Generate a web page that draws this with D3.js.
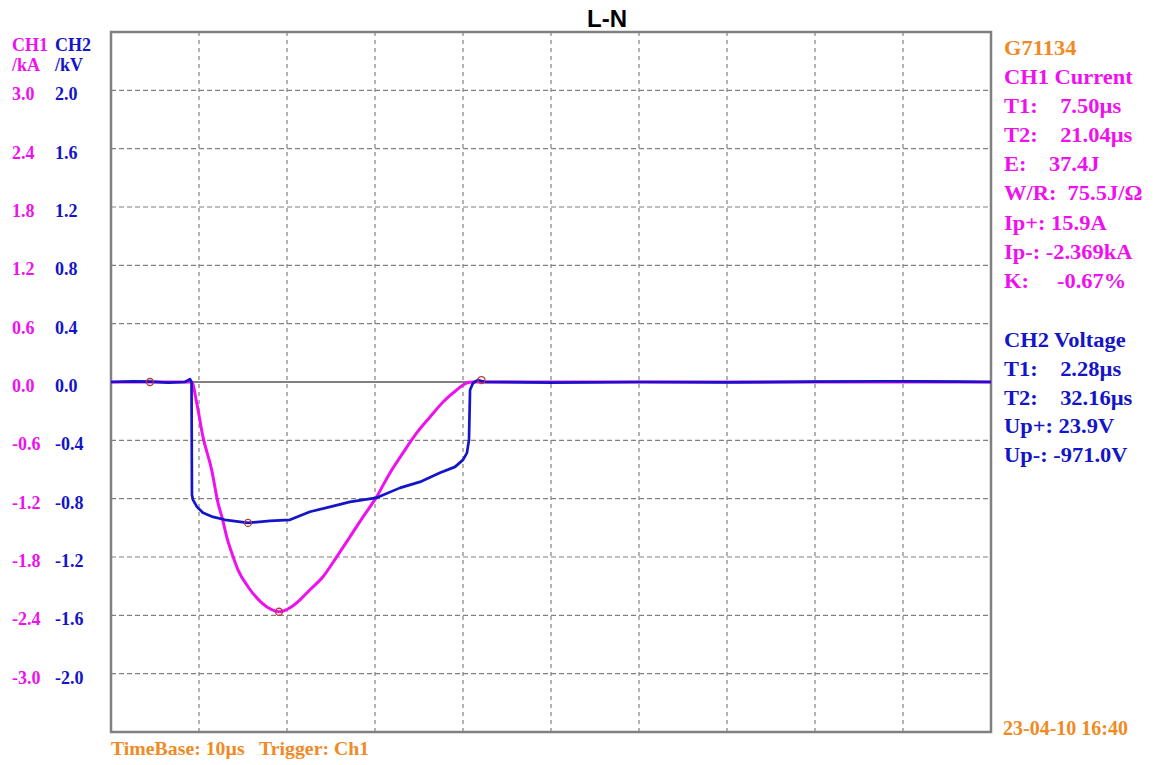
<!DOCTYPE html>
<html>
<head>
<meta charset="utf-8">
<script src="https://cdn.jsdelivr.net/npm/d3@7"></script>
<style>
  body { margin: 0; background: #fff; }
  text { font-family: "Liberation Serif", "Times New Roman", serif; font-weight: bold; white-space: pre; }
</style>
</head>
<body>
<div id="chart"></div>
<script>
// time in us, CH1 current in kA
const ch1Time = [0, 9.17, 9.74, 10.45, 11.44, 12.16, 12.69, 13.15, 13.72, 14.43, 15.57, 17.13, 18.26, 19.09,
    20.34, 21.48, 22.61, 24.09, 25.65, 27.16, 28.64, 30.11, 31.7, 33.18, 34.74, 36.25, 37.73, 39.28, 40.42, 41.14, 100];
const ch1Values = [0, 0, -0.216, -0.565, -0.904, -1.243, -1.418, -1.592, -1.757, -1.932, -2.106, -2.271, -2.342, -2.363,
    -2.322, -2.24, -2.137, -2.003, -1.798, -1.592, -1.387, -1.192, -0.935, -0.729, -0.524, -0.36, -0.205, -0.082, -0.01, 0, 0];

// time in us, CH2 voltage in kV
const ch2Time = [0, 2.5, 4.43, 6.5, 8.41, 8.98, 9.15, 9.2, 9.32, 9.77, 10.45, 11.59, 12.95, 15.57, 18.07, 20.34,
    22.61, 24.89, 27.16, 30.11, 32.84, 35.11, 37.39, 39.09, 40.0, 40.45, 40.68, 40.8, 41.14, 41.7, 42.5,
    50, 60, 70, 80, 88, 92, 96, 100];
const ch2Values = [0, 0.004, 0.002, -0.004, 0, 0.02, 0, -0.774, -0.808, -0.856, -0.897, -0.925, -0.945, -0.966, -0.952, -0.945,
    -0.89, -0.856, -0.822, -0.795, -0.726, -0.685, -0.623, -0.582, -0.534, -0.486, -0.397, -0.055, -0.007, 0.014, 0,
    -0.004, 0, -0.003, 0.002, 0.005, 0.004, 0.003, 0];

// cursor markers: [time, value, channel]
const markers = [[4.43, 0, 'ch2'], [15.57, -0.966, 'ch2'], [19.09, -2.363, 'ch1'], [42.1, 0.02, 'ch1']];

const ch1Ticks = ['3.0', '2.4', '1.8', '1.2', '0.6', '0.0', '-0.6', '-1.2', '-1.8', '-2.4', '-3.0'];
const ch2Ticks = ['2.0', '1.6', '1.2', '0.8', '0.4', '0.0', '-0.4', '-0.8', '-1.2', '-1.6', '-2.0'];
const xGrid = [10, 20, 30, 40, 50, 60, 70, 80, 90];
const yGrid = [2.0, 1.6, 1.2, 0.8, 0.4, -0.4, -0.8, -1.2, -1.6, -2.0];

const ch1Info = ['CH1 Current', 'T1:    7.50\u00b5s', 'T2:    21.04\u00b5s', 'E:    37.4J', 'W/R:  75.5J/\u03a9',
    'Ip+: 15.9A', 'Ip-: -2.369kA', 'K:     -0.67%'];
const ch2Info = ['CH2 Voltage', 'T1:    2.28\u00b5s', 'T2:    32.16\u00b5s', 'Up+: 23.9V', 'Up-: -971.0V'];

const W = 1164, H = 765;
const plotL = 111, plotR = 991, plotT = 32, plotB = 732;
const magenta = '#ee11ee', blue = '#1414c8', orange = '#f08a24', gray = '#808080';

const svg = d3.select('#chart').append('svg')
    .attr('width', W).attr('height', H);

const x = d3.scaleLinear().domain([0, 100]).range([plotL, plotR]);
const y2 = d3.scaleLinear().domain([-2.4, 2.4]).range([plotB, plotT]);
const y1 = d3.scaleLinear().domain([-3.6, 3.6]).range([plotB, plotT]);

// grid
svg.append('g').selectAll('line').data(xGrid).enter().append('line')
    .attr('x1', d => x(d)).attr('x2', d => x(d))
    .attr('y1', plotT).attr('y2', plotB)
    .attr('stroke', gray).attr('stroke-width', 1.2).attr('stroke-dasharray', '4,4');
svg.append('g').selectAll('line').data(yGrid).enter().append('line')
    .attr('x1', plotL).attr('x2', plotR)
    .attr('y1', d => y2(d)).attr('y2', d => y2(d))
    .attr('stroke', gray).attr('stroke-width', 1.2).attr('stroke-dasharray', '5,3');
// zero line
svg.append('line')
    .attr('x1', plotL).attr('x2', plotR).attr('y1', y2(0)).attr('y2', y2(0))
    .attr('stroke', gray).attr('stroke-width', 2.2);
// frame
svg.append('rect')
    .attr('x', plotL).attr('y', plotT).attr('width', plotR - plotL).attr('height', plotB - plotT)
    .attr('fill', 'none').attr('stroke', gray).attr('stroke-width', 2.5);

// traces
const line1 = d3.line().x(d => x(d[0])).y(d => y1(d[1])).curve(d3.curveMonotoneX);
const line2 = d3.line().x(d => x(d[0])).y(d => y2(d[1]));
svg.append('path')
    .attr('d', line1(d3.zip(ch1Time, ch1Values)))
    .attr('fill', 'none').attr('stroke', magenta).attr('stroke-width', 3).attr('stroke-linejoin', 'round');
svg.append('path')
    .attr('d', line2(d3.zip(ch2Time, ch2Values)))
    .attr('fill', 'none').attr('stroke', blue).attr('stroke-width', 2.7).attr('stroke-linejoin', 'round');

svg.append('g').selectAll('circle').data(markers).enter().append('circle')
    .attr('cx', d => x(d[0]))
    .attr('cy', d => d[2] === 'ch1' ? y1(d[1]) : y2(d[1]))
    .attr('r', 3.5)
    .attr('fill', 'none').attr('stroke', '#b83a3a').attr('stroke-width', 1.3);

// text helper: horizontally stretched a little like the instrument font
function label(px, py, str, color, size, sx) {
    return svg.append('text')
        .attr('transform', 'translate(' + px + ',' + py + ') scale(' + (sx || 1) + ',1)')
        .attr('fill', color).attr('font-size', size).text(str);
}

// left axis labels
label(12, 51, 'CH1', magenta, 18);
label(12, 71, '/kA', magenta, 18);
label(55, 51, 'CH2', blue, 18);
label(55, 71, '/kV', blue, 18);
ch1Ticks.forEach(d => label(12, y1(+d) + 10, d, magenta, 18));
ch2Ticks.forEach(d => label(55, y2(+d) + 10, d, blue, 18));

// title
svg.append('text').attr('x', 607).attr('y', 27).attr('text-anchor', 'middle')
    .style('font-family', 'Arial, "Liberation Sans", sans-serif')
    .attr('font-size', 24).attr('fill', '#000').text('L-N');

// right panel
label(1004, 55, 'G71134', orange, 21, 1.07);
ch1Info.forEach((d, i) => label(1004, 84 + i * 29.1, d, magenta, 21, 1.07));
ch2Info.forEach((d, i) => label(1004, 347 + i * 28.8, d, blue, 21, 1.07));

// footer
label(111, 755, 'TimeBase: 10\u00b5s   Trigger: Ch1', orange, 18, 1.1);
label(1003, 735, '23-04-10 16:40', orange, 20);
</script>
</body>
</html>
